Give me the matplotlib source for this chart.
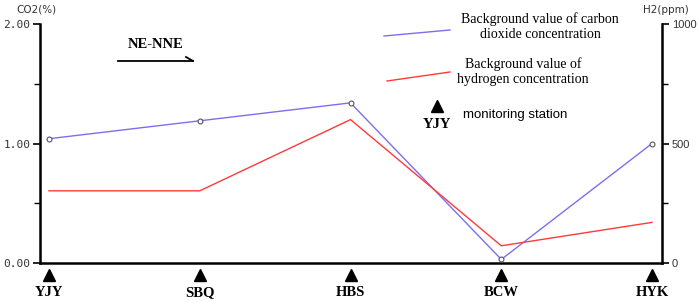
import matplotlib
matplotlib.use("Agg")
import matplotlib.pyplot as plt
from matplotlib.ticker import FixedLocator

stations = ["YJY", "SBQ", "HBS", "BCW", "HYK"]
co2_pct = [1.04, 1.19, 1.34, 0.03, 1.00]
h2_ppm = [302, 302, 600, 72, 170]
co2_ticks = [0.0, 1.0, 2.0]
co2_tick_labels = ["0.00", "1.00", "2.00"]
h2_ticks = [0, 500, 1000]
h2_tick_labels = ["0", "500", "1000"]

W, H = 699, 302
fig = plt.figure(figsize=(W / 100, H / 100), dpi=100)

def fx(px):
    return px / W

def fy(py):
    return 1 - py / H

ax = fig.add_axes([fx(40), fy(263), fx(662) - fx(40), fy(24) - fy(263)])
ax2 = ax.twinx()

x = list(range(len(stations)))
blue = "#7b6ff0"
red = "#ff3a3a"

ax.plot(x, co2_pct, color=blue, lw=1.0, marker="o", ms=3.5, mfc="white",
        mec="#555555", mew=0.8, zorder=3)
ax2.plot(x, h2_ppm, color=red, lw=1.0, zorder=2)

ax.set_xlim(-0.0597, 4.066)
ax.set_ylim(0, 2)
ax2.set_ylim(0, 1000)

for a in (ax, ax2):
    a.spines["top"].set_visible(False)
    a.set_xticks([])
for s in ("left", "bottom"):
    ax.spines[s].set_linewidth(1.8)
ax2.spines["right"].set_linewidth(1.8)
ax2.spines["left"].set_visible(False)
ax2.spines["bottom"].set_visible(False)
ax.spines["right"].set_visible(False)

ax.yaxis.set_major_locator(FixedLocator(co2_ticks))
ax.set_yticklabels(co2_tick_labels, family="DejaVu Sans Mono", fontsize=8, color="#333333")
ax.yaxis.set_minor_locator(FixedLocator([0.5, 1.5]))
ax.tick_params(axis="y", which="major", length=5, width=1.2, pad=2)
ax.tick_params(axis="y", which="minor", length=4, width=1.0)

ax2.yaxis.set_major_locator(FixedLocator(h2_ticks))
ax2.set_yticklabels(h2_tick_labels, family="Liberation Sans", fontsize=8, color="#333333")
ax2.yaxis.set_minor_locator(FixedLocator([250, 750]))
ax2.tick_params(axis="y", which="major", length=5, width=1.2, pad=2)
ax2.tick_params(axis="y", which="minor", length=4, width=1.0)

# station markers below the axis
trans = ax.get_xaxis_transform()
for i, name in enumerate(stations):
    ax.plot(i, -0.05, marker="^", color="black", ms=8, transform=trans, clip_on=False)
    ax.text(i, -0.123, name, transform=trans, ha="center", va="center",
            family="Liberation Serif", fontweight="bold", fontsize=10.5)

# axis titles
fig.text(fx(16), fy(10), "CO2(%)", family="DejaVu Sans", fontsize=7.5, color="#333333",
         ha="left", va="center")
fig.text(fx(643), fy(10), "H2(ppm)", family="DejaVu Sans", fontsize=7.5, color="#333333",
         ha="left", va="center")

# direction arrow
fig.text(fx(156), fy(45), "NE-NNE", family="Liberation Serif", fontweight="bold",
         fontsize=10.5, ha="center", va="center")
fig.add_artist(plt.Line2D([fx(118), fx(193)], [fy(61), fy(61)], color="black", lw=1.3))
fig.add_artist(plt.Line2D([fx(186), fx(193)], [fy(57), fy(61)], color="black", lw=1.3))

# legend
fig.add_artist(plt.Line2D([fx(384), fx(450)], [fy(36), fy(30)], color=blue, lw=1.0))
fig.text(fx(540), fy(27), "Background value of carbon\ndioxide concentration",
         family="Liberation Serif", fontsize=10, ha="center", va="center", linespacing=1.2)
fig.add_artist(plt.Line2D([fx(387), fx(450)], [fy(81), fy(72)], color=red, lw=1.0))
fig.text(fx(457), fy(72), "Background value of\nhydrogen concentration",
         family="Liberation Serif", fontsize=10, ha="left", va="center", linespacing=1.2,
         multialignment="center")
fig.add_artist(plt.Line2D([fx(437)], [fy(106)], marker="^", color="black", ms=8))
fig.text(fx(437), fy(125), "YJY", family="Liberation Serif", fontweight="bold",
         fontsize=10.5, ha="center", va="center")
fig.text(fx(463), fy(115), "monitoring station", family="Liberation Sans",
         fontsize=9.5, ha="left", va="center")

fig.savefig("out.png", dpi=100)
